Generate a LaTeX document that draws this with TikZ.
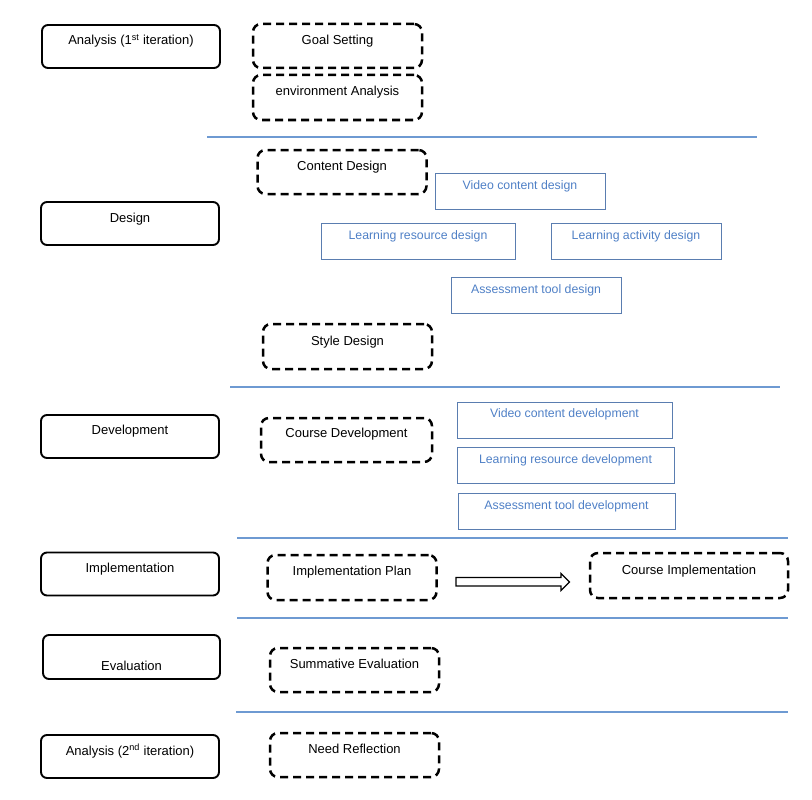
\documentclass[tikz,border=0pt]{standalone}
\usepackage{fontspec}
\setmainfont{Liberation Sans}
\usetikzlibrary{calc}
\definecolor{sepblue}{HTML}{6E9AD2}
\definecolor{boxblue}{HTML}{5A7DB0}
\definecolor{txtblue}{HTML}{4F80C6}
\tikzset{
  phase/.style={draw=black, line width=1.9pt, rounded corners=6pt, minimum width=178pt, minimum height=43pt, inner sep=0pt},
  dbox/.style={draw=black, line width=2.5pt, rounded corners=8pt, dash pattern=on 8pt off 5pt, minimum width=169pt, minimum height=44pt, inner sep=0pt},
  bbox/.style={draw=boxblue, line width=0.9pt, minimum height=36pt, inner sep=0pt},
  lab/.style={anchor=center, font=\fontsize{13}{15}\selectfont, inner sep=0pt},
  blab/.style={anchor=center, font=\fontsize{12.3}{14}\selectfont, text=txtblue, inner sep=0pt},
  sep/.style={draw=sepblue, line width=1.1pt},
}
\begin{document}
\begin{tikzpicture}[x=1pt,y=-1pt]
\useasboundingbox (0,0) rectangle (812,800);
% phase boxes
\node[phase, label={[lab,yshift=-17pt]north:Analysis (1\textsuperscript{st} iteration)}] (p1) at (131,46.5) {};
\node[phase, label={[lab,yshift=-18pt]north:Design}] (p2) at (130,223.5) {};
\node[phase, label={[lab,yshift=-17pt]north:Development}] (p3) at (130,436.5) {};
\node[phase, label={[lab,yshift=-18pt]north:Implementation}] (p4) at (130,574) {};
\node[phase, minimum width=177pt, minimum height=44pt, label={[lab,yshift=-32pt]north:Evaluation}] (p5) at (131.5,657) {};
\node[phase, label={[lab,yshift=-17pt]north:Analysis (2\textsuperscript{nd} iteration)}] (p6) at (130,756.5) {};
% dashed boxes
\node[dbox, label={[lab,yshift=-18pt]north:Goal Setting}] (gs) at (337.5,46) {};
\node[dbox, minimum height=45pt, label={[lab,yshift=-18pt]north:environment Analysis}] (ea) at (337.5,97.5) {};
\node[dbox, label={[lab,yshift=-18pt]north:Content Design}] (cd) at (342,172) {};
\node[dbox, minimum height=45pt, label={[lab,yshift=-19pt]north:Style Design}] (sd) at (347.5,346.5) {};
\node[dbox, minimum width=171pt, label={[lab,yshift=-17pt]north:Course Development}] (cdev) at (346.5,440) {};
\node[dbox, minimum height=45pt, label={[lab,yshift=-18pt]north:Implementation Plan}] (ip) at (352,577.5) {};
\node[dbox, minimum width=198pt, minimum height=45pt, label={[lab,yshift=-19pt]north:Course Implementation}] (ci) at (689,575.5) {};
\node[dbox, label={[lab,yshift=-17pt]north:Summative Evaluation}] (se) at (354.5,670) {};
\node[dbox, label={[lab,yshift=-17pt]north:Need Reflection}] (nr) at (354.5,755) {};
% blue boxes
\node[bbox, minimum width=170pt, label={[blab,yshift=-14pt]north:Video content design}] (vcd) at (520,191) {};
\node[bbox, minimum width=194pt, label={[blab,yshift=-14pt]north:Learning resource design}] (lrd) at (418,241) {};
\node[bbox, minimum width=170pt, label={[blab,yshift=-14pt]north:Learning activity design}] (lad) at (636,241) {};
\node[bbox, minimum width=170pt, label={[blab,yshift=-14pt]north:Assessment tool design}] (atd) at (536,295) {};
\node[bbox, minimum width=215pt, label={[blab,yshift=-13pt]north:Video content development}] (vcdev) at (564.5,420) {};
\node[bbox, minimum width=217pt, label={[blab,yshift=-14pt]north:Learning resource development}] (lrdev) at (565.5,465) {};
\node[bbox, minimum width=217pt, label={[blab,yshift=-14pt]north:Assessment tool development}] (atdev) at (566.5,511) {};
% separators
\coordinate (s1a) at (207,137); \coordinate (s1b) at (757,137);
\coordinate (s2a) at (230,387); \coordinate (s2b) at (780,387);
\coordinate (s3a) at (237,538); \coordinate (s3b) at (788,538);
\coordinate (s4a) at (237,618); \coordinate (s4b) at (788,618);
\coordinate (s5a) at (236,712); \coordinate (s5b) at (788,712);
\draw[sep] (s1a) -- (s1b);
\draw[sep] (s2a) -- (s2b);
\draw[sep] (s3a) -- (s3b);
\draw[sep] (s4a) -- (s4b);
\draw[sep] (s5a) -- (s5b);
% block arrow
\draw[line width=1.2pt, line join=miter] (456,577.5) -- (561,577.5) -- (561,573.5) -- (569.5,582) -- (561,590.5) -- (561,586) -- (456,586) -- cycle;
\end{tikzpicture}
\end{document}
